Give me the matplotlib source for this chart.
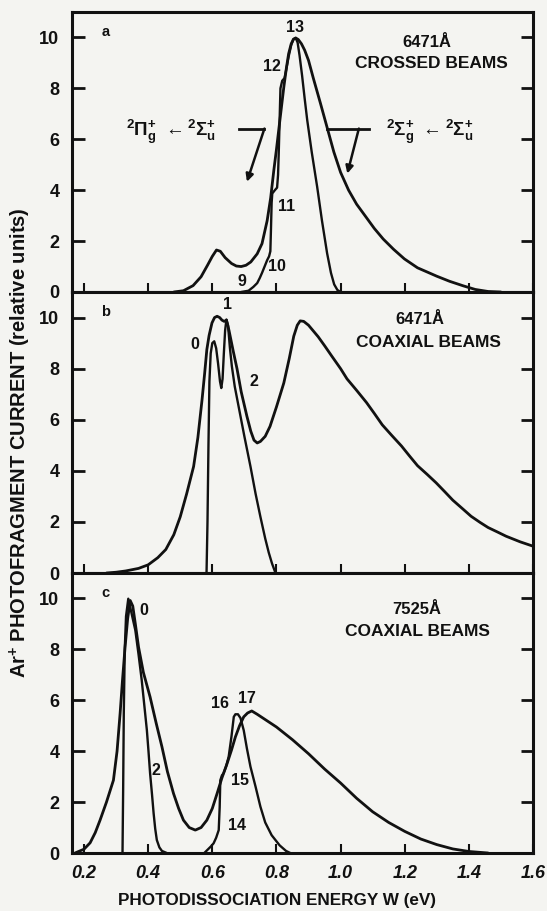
import matplotlib
matplotlib.use("Agg")
import matplotlib.pyplot as plt

# ---------------------------------------------------------------- data
# (a) 6471 A, crossed beams
a_broad_x = [0.48, 0.51, 0.54, 0.565, 0.585, 0.60, 0.613, 0.625, 0.64, 0.66, 0.675, 0.69,
             0.705, 0.72, 0.74, 0.755, 0.771, 0.782, 0.792, 0.80, 0.807, 0.815, 0.823, 0.831,
             0.838, 0.846, 0.853, 0.86, 0.868, 0.878, 0.888, 0.90, 0.915, 0.9375, 0.955,
             0.979, 1.0, 1.025, 1.05, 1.079, 1.105, 1.133, 1.165, 1.199, 1.24, 1.271, 1.30,
             1.34, 1.383, 1.42, 1.46, 1.50]
a_broad_y = [0.0, 0.05, 0.25, 0.6, 1.05, 1.4, 1.65, 1.6, 1.35, 1.12, 1.02, 1.0,
             1.05, 1.18, 1.5, 1.9, 2.8, 3.7, 4.8, 5.6, 6.35, 7.2, 8.05, 8.8,
             9.36, 9.75, 9.93, 9.98, 9.92, 9.75, 9.5, 9.1, 8.4, 7.4, 6.6,
             5.5, 4.7, 4.0, 3.45, 2.95, 2.5, 2.08, 1.68, 1.3, 0.95, 0.78, 0.62,
             0.42, 0.24, 0.1, 0.02, 0.0]
a_narrow_x = [0.69, 0.713, 0.728, 0.74, 0.748, 0.755, 0.763, 0.771, 0.777, 0.781, 0.783,
              0.785, 0.787, 0.795, 0.802, 0.805, 0.807, 0.81, 0.8125, 0.818, 0.825, 0.83,
              0.838, 0.846, 0.853, 0.86, 0.866, 0.872, 0.88, 0.888, 0.896, 0.91, 0.927,
              0.942, 0.958, 0.97, 0.98, 0.99, 1.0]
a_narrow_y = [0.0, 0.05, 0.2, 0.35, 0.55, 0.75, 1.0, 1.25, 1.4, 1.6, 2.5,
              3.5, 3.87, 4.0, 4.1, 4.6, 5.4, 6.8, 8.0, 8.3, 8.4, 8.7,
              9.25, 9.7, 9.93, 9.98, 9.8, 9.3, 8.5, 7.6, 6.75, 5.5, 4.13,
              2.8, 1.52, 0.75, 0.3, 0.08, 0.0]
a_peak_labels = ["13", "12", "11", "10", "9"]
a_peak_x = [0.859, 0.786, 0.833, 0.802, 0.693]
a_peak_y = [10.4, 8.84, 3.35, 0.99, 0.4]

# (b) 6471 A, coaxial beams
b_broad_x = [0.27, 0.30, 0.33, 0.37, 0.40, 0.43, 0.455, 0.48, 0.50, 0.52, 0.5417, 0.555,
             0.568, 0.576, 0.583, 0.59, 0.599, 0.607, 0.615, 0.623, 0.63, 0.637, 0.644,
             0.652, 0.665, 0.677, 0.69, 0.708, 0.72, 0.73, 0.74, 0.75, 0.765, 0.78, 0.80,
             0.823, 0.84, 0.854, 0.865, 0.874, 0.885, 0.90, 0.93, 0.95, 0.972, 1.0, 1.02,
             1.05, 1.081, 1.105, 1.13, 1.16, 1.19, 1.215, 1.24, 1.27, 1.298, 1.325, 1.35,
             1.38, 1.407, 1.435, 1.46, 1.49, 1.516, 1.56, 1.60]
b_broad_y = [0.0, 0.03, 0.08, 0.18, 0.32, 0.6, 0.92, 1.5, 2.2, 3.1, 4.17, 5.3,
             6.78, 7.8, 8.75, 9.3, 9.79, 10.0, 10.05, 10.0, 9.9, 9.85, 9.9,
             9.5, 8.7, 8.0, 7.1, 6.13, 5.55, 5.2, 5.09, 5.15, 5.35, 5.74, 6.5,
             7.44, 8.4, 9.27, 9.7, 9.87, 9.85, 9.7, 9.25, 8.9, 8.5, 8.0, 7.6,
             7.15, 6.67, 6.25, 5.8, 5.38, 4.97, 4.58, 4.2, 3.86, 3.53, 3.18, 2.85,
             2.52, 2.22, 1.98, 1.78, 1.6, 1.44, 1.22, 1.05]
b_narrow_x = [0.582, 0.585, 0.588, 0.591, 0.595, 0.60, 0.606, 0.612, 0.618, 0.624, 0.628,
              0.632, 0.636, 0.64, 0.644, 0.649, 0.655, 0.661, 0.67, 0.682, 0.70, 0.719,
              0.735, 0.75, 0.765, 0.776, 0.786, 0.797]
b_narrow_y = [0.0, 2.0, 5.0, 7.5, 8.6, 9.0, 9.07, 8.8, 8.2, 7.5, 7.24,
              7.6, 8.6, 9.5, 9.92, 9.7, 8.8, 8.09, 7.3, 6.52, 5.35, 4.17,
              3.1, 2.2, 1.35, 0.8, 0.38, 0.0]
b_peak_labels = ["0", "1", "2"]
b_peak_x = [0.547, 0.646, 0.729]
b_peak_y = [8.94, 10.5, 7.5]

# (c) 7525 A, coaxial beams
c_broad_x = [0.172, 0.20, 0.219, 0.235, 0.25, 0.27, 0.2917, 0.303, 0.3125, 0.32, 0.328,
             0.336, 0.344, 0.352, 0.36, 0.37, 0.385, 0.406, 0.425, 0.443, 0.46, 0.479,
             0.495, 0.51, 0.528, 0.547, 0.565, 0.583, 0.60, 0.615, 0.63, 0.646, 0.66,
             0.672, 0.685, 0.698, 0.71, 0.723, 0.74, 0.77, 0.80, 0.85, 0.90, 0.95, 1.0,
             1.05, 1.10, 1.15, 1.20, 1.25, 1.30, 1.35, 1.40, 1.46]
c_broad_y = [0.0, 0.15, 0.4, 0.8, 1.29, 2.0, 2.86, 4.0, 5.48, 6.8, 8.09,
             9.2, 9.92, 9.7, 9.0, 8.09, 7.1, 6.13, 5.1, 4.17, 3.2, 2.34,
             1.75, 1.29, 1.0, 0.9, 1.0, 1.29, 1.75, 2.34, 2.95, 3.51, 4.05,
             4.56, 5.0, 5.35, 5.5, 5.58, 5.45, 5.2, 4.95, 4.45, 3.9, 3.3, 2.75,
             2.15, 1.62, 1.2, 0.85, 0.55, 0.33, 0.16, 0.06, 0.0]
c_low_x = [0.32, 0.322, 0.324, 0.327, 0.331, 0.338, 0.345, 0.352, 0.36, 0.37, 0.38,
           0.388, 0.396, 0.401, 0.406, 0.412, 0.417, 0.422, 0.427, 0.435, 0.443, 0.458]
c_low_y = [0.0, 2.5, 5.5, 8.0, 9.3, 9.99, 9.6, 9.2, 8.75, 7.8, 6.78,
           5.8, 4.82, 4.0, 3.13, 2.3, 1.56, 0.95, 0.51, 0.22, 0.08, 0.0]
c_high_x = [0.575, 0.583, 0.595, 0.604, 0.612, 0.62, 0.623, 0.625, 0.63, 0.635, 0.643,
            0.651, 0.66, 0.667, 0.672, 0.68, 0.688, 0.698, 0.708, 0.719, 0.735, 0.75,
            0.765, 0.785, 0.81, 0.83, 0.843]
c_high_y = [0.0, 0.1, 0.25, 0.38, 0.6, 0.9, 1.8, 2.86, 3.05, 3.13, 3.4,
            3.78, 4.6, 5.35, 5.45, 5.45, 5.3, 4.82, 4.1, 3.39, 2.6, 1.82,
            1.2, 0.7, 0.3, 0.08, 0.0]
c_peak_labels = ["0", "2", "16", "17", "15", "14"]
c_peak_x = [0.385, 0.425, 0.625, 0.708, 0.6875, 0.677]
c_peak_y = [9.53, 3.25, 5.87, 6.07, 2.86, 1.1]

x_ticks = [0.2, 0.4, 0.6, 0.8, 1.0, 1.2, 1.4, 1.6]
x_ticklabels = ["0.2", "0.4", "0.6", "0.8", "1.0", "1.2", "1.4", "1.6"]
y_ticks = [0, 2, 4, 6, 8, 10]
y_ticklabels = ["0", "2", "4", "6", "8", "10"]

panel_letters = ["a", "b", "c"]
wavelengths = ["6471Å", "6471Å", "7525Å"]
geometries = ["CROSSED BEAMS", "COAXIAL BEAMS", "COAXIAL BEAMS"]

# ---------------------------------------------------------------- style
FONT = "Liberation Sans"
plt.rcParams["font.family"] = [FONT, "DejaVu Sans"]
plt.rcParams["font.weight"] = "bold"
plt.rcParams["mathtext.fontset"] = "custom"
plt.rcParams["mathtext.rm"] = "Liberation Sans:bold"
plt.rcParams["mathtext.it"] = "Liberation Sans:bold"
plt.rcParams["mathtext.bf"] = "Liberation Sans:bold"

BG = "#f4f4f1"
INK = "#111111"

fig = plt.figure(figsize=(5.47, 9.11), dpi=100, facecolor=BG)

W, H = 547.0, 911.0
left, right = 72 / W, 533 / W
edges = [12, 292, 573, 853]
axes = []
for i in range(3):
    top_px, bot_px = edges[i], edges[i + 1]
    ax = fig.add_axes([left, 1 - bot_px / H, right - left, (bot_px - top_px) / H])
    ax.set_facecolor(BG)
    ax.set_xlim(0.1625, 1.6)
    ax.set_ylim(0, 11)
    for s in ax.spines.values():
        s.set_linewidth(2.2)
        s.set_color(INK)
    ax.set_yticks(y_ticks)
    ax.set_yticklabels(y_ticklabels, fontsize=13, fontweight="bold")
    ax.tick_params(axis="y", direction="in", length=9, width=2.0, left=True,
                   right=True, pad=9, colors=INK)
    ax.set_xticks(x_ticks)
    ax.tick_params(axis="x", direction="in", length=6.5, width=1.5, top=False,
                   bottom=True, pad=9, colors=INK)
    if i < 2:
        ax.set_xticklabels([])
    else:
        ax.set_xticklabels(x_ticklabels, fontsize=13, fontweight="bold", style="italic")
    axes.append(ax)

ax_a, ax_b, ax_c = axes

curve_kw = dict(color=INK, lw=2.0, solid_joinstyle="round", solid_capstyle="round")
thin_kw = dict(color=INK, lw=1.7, solid_joinstyle="round", solid_capstyle="round")

ax_a.plot(a_broad_x, a_broad_y, **curve_kw)
ax_a.plot(a_narrow_x, a_narrow_y, **thin_kw)
ax_b.plot(b_broad_x, b_broad_y, **curve_kw)
ax_b.plot(b_narrow_x, b_narrow_y, **thin_kw)
ax_c.plot(c_broad_x, c_broad_y, **curve_kw)
ax_c.plot(c_low_x, c_low_y, **thin_kw)
ax_c.plot(c_high_x, c_high_y, **thin_kw)

peak_sets = [(a_peak_labels, a_peak_x, a_peak_y),
             (b_peak_labels, b_peak_x, b_peak_y),
             (c_peak_labels, c_peak_x, c_peak_y)]
for ax, (labels, xs, ys) in zip(axes, peak_sets):
    for lab, x, y in zip(labels, xs, ys):
        ax.text(x, y, lab, fontsize=11.5, fontweight="bold", ha="center",
                va="center", color=INK)

# panel letters and beam descriptions
wl_pos = [(1.269, 9.82), (1.247, 9.92), (1.2375, 9.56)]
geo_pos = [(1.284, 8.97), (1.275, 9.02), (1.24, 8.72)]
for ax, letter, wl, geo, p1, p2 in zip(axes, panel_letters, wavelengths, geometries,
                                       wl_pos, geo_pos):
    ax.text(0.268, 10.2, letter, fontsize=10.5, fontweight="bold", ha="center",
            va="center", color=INK)
    ax.text(*p1, wl, fontsize=12, fontweight="bold", ha="center", va="center", color=INK)
    ax.text(*p2, geo, fontsize=12.5, fontweight="bold", ha="center", va="center",
            color=INK)

# transition assignments with pointer lines in panel (a)
ax_a.text(0.472, 6.3, r"$^{2}\Pi_{g}^{+}\ \leftarrow{}^{2}\Sigma_{u}^{+}$", fontsize=13.5,
          ha="center", va="center", color=INK)
ax_a.text(1.278, 6.3, r"$^{2}\Sigma_{g}^{+}\ \leftarrow{}^{2}\Sigma_{u}^{+}$", fontsize=13.5,
          ha="center", va="center", color=INK)
ax_a.plot([0.682, 0.7625], [6.42, 6.42], color=INK, lw=2.0)
ax_a.annotate("", xy=(0.708, 4.33), xytext=(0.7625, 6.42),
              arrowprops=dict(arrowstyle="-|>", color=INK, lw=1.8, mutation_scale=11,
                              shrinkA=0, shrinkB=0))
ax_a.plot([0.958, 1.088], [6.42, 6.42], color=INK, lw=2.0)
ax_a.annotate("", xy=(1.021, 4.65), xytext=(1.057, 6.42),
              arrowprops=dict(arrowstyle="-|>", color=INK, lw=1.8, mutation_scale=11,
                              shrinkA=0, shrinkB=0))

# axis titles
fig.text(277 / W, 1 - 901 / H, "PHOTODISSOCIATION ENERGY W (eV)", fontsize=12.3,
         fontweight="bold", ha="center", va="center", color=INK)
fig.text(20 / W, 1 - 443 / H, r"Ar$^{+}$ PHOTOFRAGMENT CURRENT (relative units)",
         fontsize=14.5, fontweight="bold", ha="center", va="center", rotation=90,
         color=INK)

fig.savefig("out.png", dpi=100, facecolor=BG)
